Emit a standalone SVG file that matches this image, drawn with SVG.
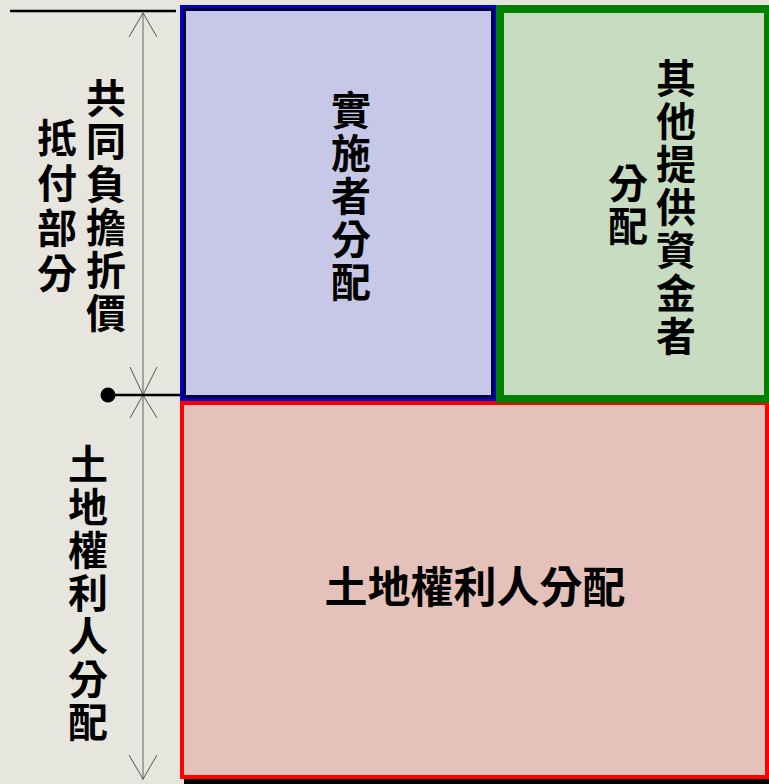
<svg xmlns="http://www.w3.org/2000/svg" width="769" height="784" viewBox="0 0 769 784">
<style>
.t{font-family:"Noto Sans CJK TC","Noto Sans CJK SC",sans-serif;font-weight:bold;font-size:40px;fill:#000;text-anchor:middle}
.v{writing-mode:vertical-rl;text-orientation:upright;letter-spacing:3px}
.dim{stroke:#8c8c8c;stroke-width:1.5;fill:none}
.arm{stroke:#555;stroke-width:1;fill:none}
</style>
<rect x="0" y="0" width="769" height="784" fill="#e6e6de"/>
<g id="connectors">
<line x1="10" y1="11" x2="176" y2="11" stroke="#000" stroke-width="2.5"/>
<line class="dim" x1="143" y1="12" x2="143" y2="780"/>
<polyline class="arm" points="129,37 143,13 157,37"/>
<polyline class="arm" points="130,367 143,395 157,367"/>
<polyline class="arm" points="130,418 143,395 157,418"/>
<polyline class="arm" points="129,755 143,779 157,755"/>
<line x1="108" y1="395" x2="190" y2="395" stroke="#000" stroke-width="2.5"/>
<circle cx="108" cy="395" r="7.5" fill="#000"/>
</g>
<g id="landowner">
<rect x="184" y="405" width="585" height="379" fill="#000"/>
<rect x="182" y="403" width="585" height="374" fill="#e4c1b9" stroke="#ff0000" stroke-width="4"/>
<text class="t" x="475" y="603" style="font-size:43px">土地權利人分配</text>
</g>
<g id="implementer">
<rect x="183" y="8" width="311" height="390" fill="#c7c8e8" stroke="#0000cc" stroke-width="6"/>
<rect x="184.5" y="9.5" width="308" height="387" fill="none" stroke="#000" stroke-width="2"/>
<text class="t v" x="351" y="197">實施者分配</text>
</g>
<g id="investor">
<rect x="500" y="9" width="268" height="390" fill="#c7dcc0" stroke="#008000" stroke-width="8"/>
<text class="t v" x="676" y="208">其他提供資金者</text>
<text class="t v" x="628" y="206">分配</text>
</g>
<g id="label-common">
<text class="t v" x="106" y="207">共同負擔折價</text>
<text class="t v" x="57" y="208" style="letter-spacing:5px">抵付部分</text>
</g>
<g id="label-landowner">
<text class="t v" x="88" y="594">土地權利人分配</text>
</g>
</svg>
